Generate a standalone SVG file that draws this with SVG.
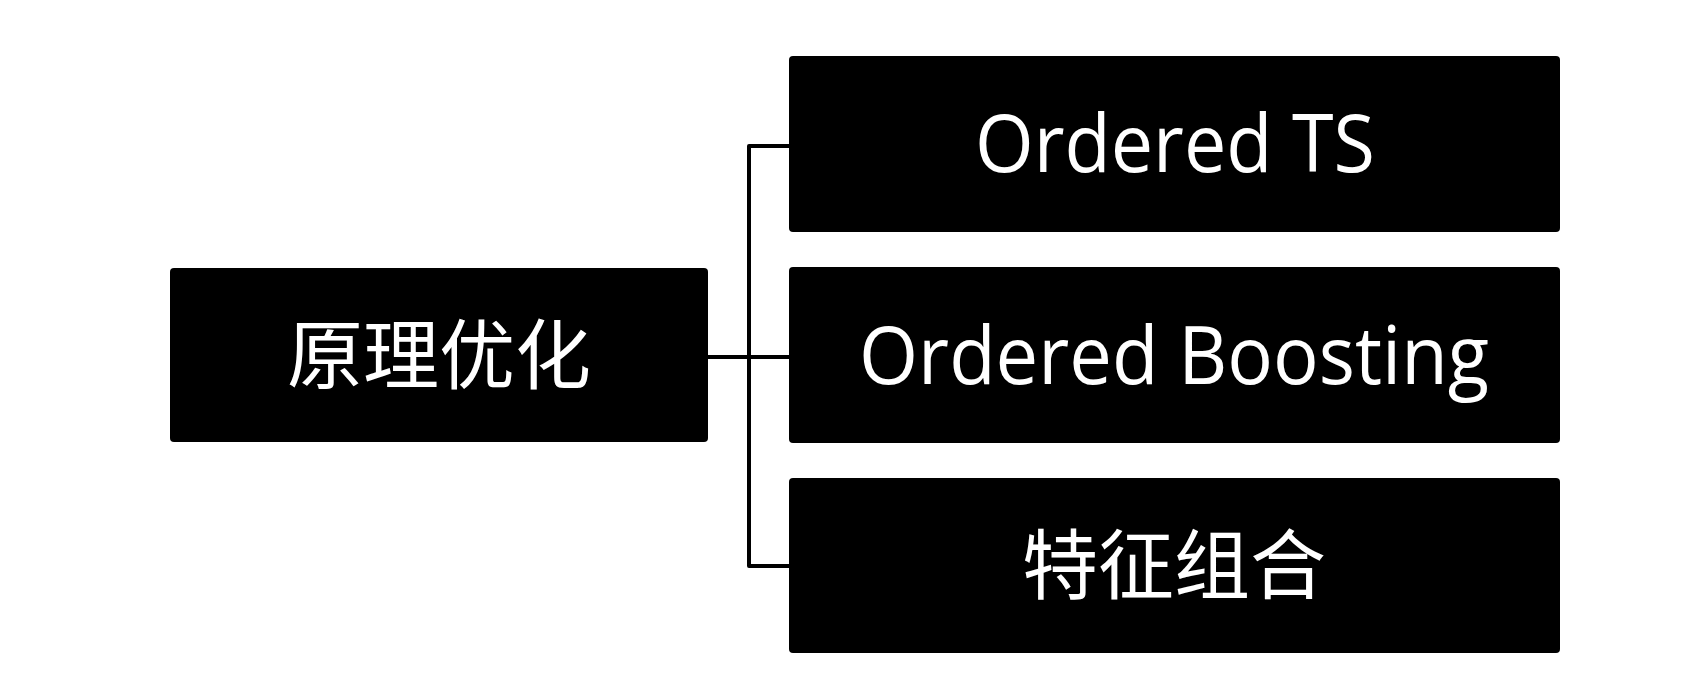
<svg xmlns="http://www.w3.org/2000/svg" width="1704" height="696" viewBox="0 0 1704 696">
<style>
.box{fill:#000}
.lat{font-family:"Open Sans","Noto Sans",sans-serif;font-size:80px;fill:#fff;text-anchor:middle}
.cjk{font-family:"Noto Sans CJK SC",sans-serif;font-size:76px;fill:#fff;text-anchor:middle}
.con{fill:none;stroke:#000;stroke-width:4;stroke-linejoin:round}
</style>
<rect width="1704" height="696" fill="#fff"/>
<g id="connectors">
<path class="con" d="M789,146 H749 V566 H789"/>
<path class="con" d="M708,357 H789" stroke-width="3"/>
</g>
<g id="root">
<rect class="box" x="170" y="268" width="538" height="174" rx="4"/>
<text class="cjk" x="439" y="383">原理优化</text>
</g>
<g id="n1">
<rect class="box" x="789" y="56" width="771" height="176" rx="4"/>
<text class="lat" x="1175" y="172" textLength="400" lengthAdjust="spacingAndGlyphs">Ordered TS</text>
</g>
<g id="n2">
<rect class="box" x="789" y="267" width="771" height="176" rx="4"/>
<text class="lat" x="1174" y="384" textLength="630" lengthAdjust="spacingAndGlyphs">Ordered Boosting</text>
</g>
<g id="n3">
<rect class="box" x="789" y="478" width="771" height="175" rx="4"/>
<text class="cjk" x="1174" y="593">特征组合</text>
</g>
</svg>
